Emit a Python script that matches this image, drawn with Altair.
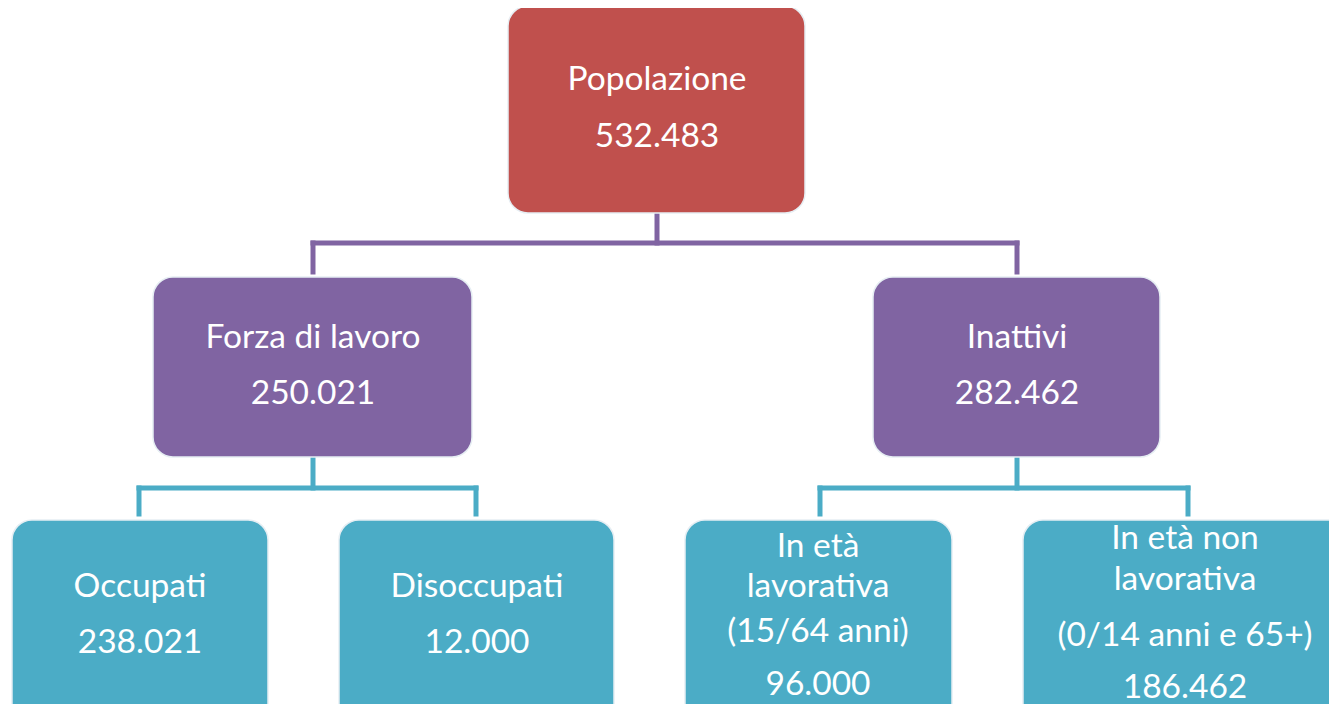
import altair as alt
import pandas as pd

# --- chart content ---
node_ids = ["pop", "forza", "inatt", "occ", "disocc", "eta_lav", "eta_nonlav"]
node_lines = [
    ["Popolazione", "532.483"],
    ["Forza di lavoro", "250.021"],
    ["Inattivi", "282.462"],
    ["Occupati", "238.021"],
    ["Disoccupati", "12.000"],
    ["In età", "lavorativa", "(15/64 anni)", "96.000"],
    ["In età non", "lavorativa", "(0/14 anni e 65+)", "186.462"],
]
node_level = [0, 1, 1, 2, 2, 2, 2]
parents = [None, "pop", "pop", "forza", "forza", "inatt", "inatt"]

# --- layout (reference pixel coordinates) ---
box_x0 = [508, 153, 873, 12, 339, 685, 1023]
box_x1 = [805, 472, 1160, 268, 614, 952, 1350]
box_y0 = [6, 277, 277, 520, 520, 520, 520]
box_y1 = [213, 457, 457, 730, 730, 730, 730]
text_cx = [657, 313, 1017, 140, 477, 818, 1185]
text_cy = [[80, 137], [338, 394], [338, 394], [587, 643], [587, 643],
           [547, 587, 632, 685], [539, 580, 636, 688]]
level_colors = ["#C0504D", "#8064A2", "#4BACC6"]

# connector segments: (x, y, x2, y2, level-of-children)
segments = [
    (657, 213, 657, 243, 1), (313, 243, 1017, 243, 1),
    (313, 243, 313, 272, 1), (1017, 243, 1017, 272, 1),
    (313, 457, 313, 488, 2), (139, 488, 476, 488, 2),
    (139, 488, 139, 514, 2), (476, 488, 476, 514, 2),
    (1017, 457, 1017, 488, 2), (820, 488, 1188, 488, 2),
    (820, 488, 820, 514, 2), (1188, 488, 1188, 514, 2),
]

boxes = pd.DataFrame({
    "id": node_ids,
    "x0": box_x0, "x1": box_x1, "y0": box_y0, "y1": box_y1,
    "color": [level_colors[l] for l in node_level],
})
texts = pd.DataFrame([
    {"x": text_cx[i], "y": cy, "t": line}
    for i in range(len(node_ids))
    for line, cy in zip(node_lines[i], text_cy[i])
])
segs = pd.DataFrame(segments, columns=["x", "y", "x2", "y2", "lvl"])
segs["color"] = [level_colors[l] for l in segs["lvl"]]

W, H = 1321, 696
xs = alt.Scale(domain=[8, 8 + W], nice=False, zero=False)
ys = alt.Scale(domain=[8, 8 + H], nice=False, zero=False, reverse=True)

lines = alt.Chart(segs).mark_rule(strokeWidth=5, strokeCap="square", clip=True).encode(
    x=alt.X("x:Q", scale=xs, axis=None),
    y=alt.Y("y:Q", scale=ys, axis=None),
    x2="x2:Q", y2="y2:Q",
    color=alt.Color("color:N", scale=None),
)
rects = alt.Chart(boxes).mark_rect(cornerRadius=20, stroke="#e6eef3", strokeWidth=1.5, clip=True).encode(
    x=alt.X("x0:Q", scale=xs, axis=None),
    x2="x1:Q",
    y=alt.Y("y0:Q", scale=ys, axis=None),
    y2="y1:Q",
    color=alt.Color("color:N", scale=None),
)
labels = alt.Chart(texts).mark_text(
    font="Lato", fontSize=33.5, color="white", align="center", baseline="middle"
).encode(
    x=alt.X("x:Q", scale=xs, axis=None),
    y=alt.Y("y:Q", scale=ys, axis=None),
    text="t:N",
)

chart = alt.layer(lines, rects, labels).properties(
    width=W, height=H, autosize=alt.AutoSizeParams(type="none"), padding=0,
    background="white",
).configure_view(strokeWidth=0, stroke=None)

chart.save("out.html", embed_options={"renderer": "svg", "actions": False})
